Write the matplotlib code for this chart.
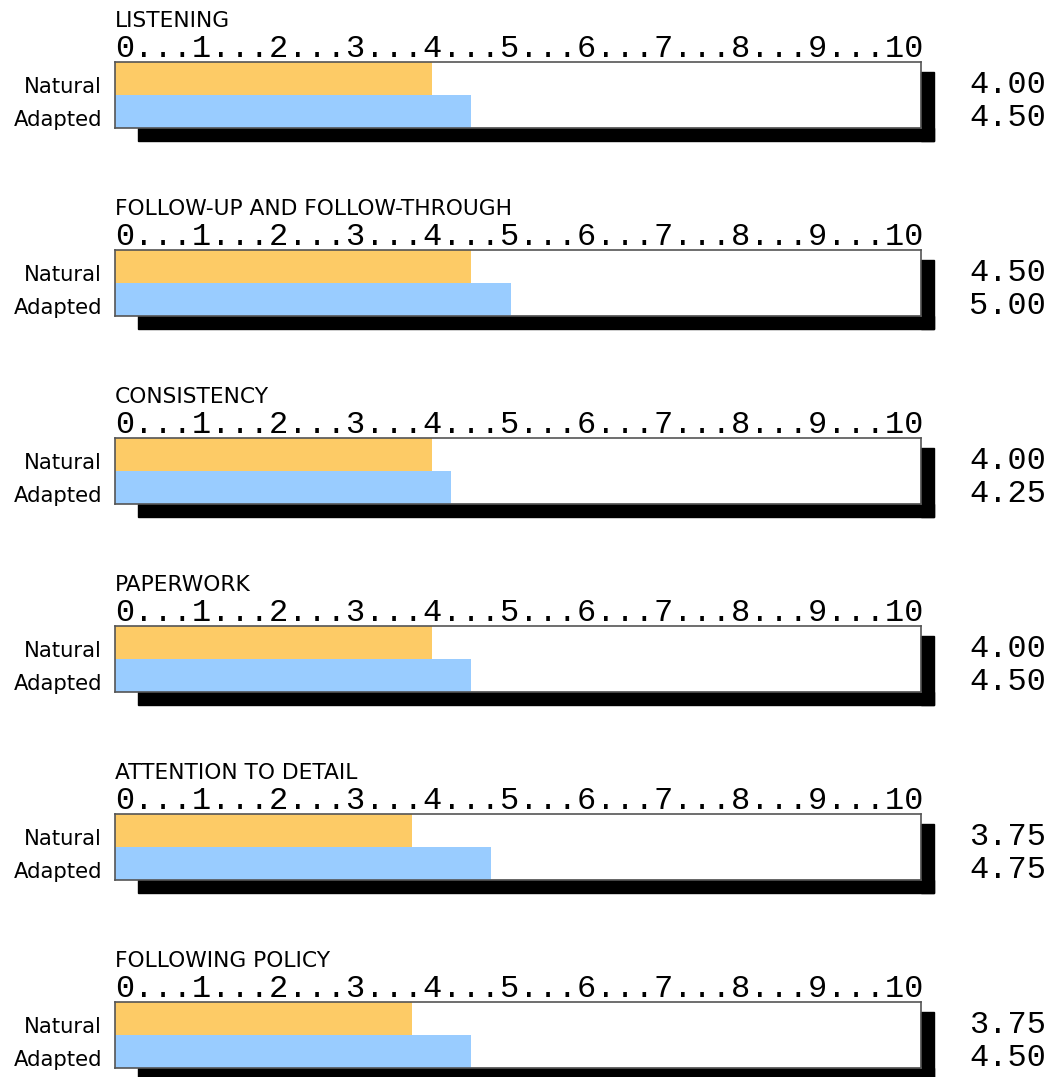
import numpy as np
import matplotlib.pyplot as plt
from matplotlib.patches import Rectangle

# scores per behaviour, 0-10 scale
categories = ['LISTENING', 'FOLLOW-UP AND FOLLOW-THROUGH', 'CONSISTENCY',
              'PAPERWORK', 'ATTENTION TO DETAIL', 'FOLLOWING POLICY']
natural = [4.00, 4.50, 4.00, 4.00, 3.75, 3.75]
adapted = [4.50, 5.00, 4.25, 4.50, 4.75, 4.50]
row_labels = ['Natural', 'Adapted']
scale_marks = [str(i) for i in range(11)]

W, H = 1048, 1077
fig = plt.figure(figsize=(W / 100, H / 100), dpi=100)

box_left, box_right = 115, 921
box_w = box_right - box_left
box_h = 66
first_top, step = 62, 188
xmax = 10.18

scale_text = '...'.join(scale_marks)
sx = 13 / box_w   # shadow offset in axes units
sy = 13 / box_h

for i, cat in enumerate(categories):
    top = first_top + i * step
    ax = fig.add_axes([box_left / W, 1 - (top + box_h) / H,
                       box_w / W, box_h / H])
    ax.barh([1.5], [natural[i]], height=1.0, color='#FDCB66', zorder=2)
    ax.barh([0.5], [adapted[i]], height=1.0, color='#99CCFF', zorder=2)
    ax.set_xlim(0, xmax)
    ax.set_ylim(0, 2)
    ax.set_xticks([])
    ax.set_yticks([])
    for sp in ax.spines.values():
        sp.set_color('#555555')
        sp.set_linewidth(1.2)

    # drop shadow along the right and bottom edges
    ax.add_patch(Rectangle((1.0, -sy), sx, 1 + sy - 10 / box_h,
                           transform=ax.transAxes, color='black',
                           clip_on=False, zorder=0))
    ax.add_patch(Rectangle((23 / box_w, -sy), 1 + sx - 23 / box_w, sy,
                           transform=ax.transAxes, color='black',
                           clip_on=False, zorder=0))

    ax.text(0, 1 + 35 / box_h, cat, transform=ax.transAxes,
            fontsize=15.7, family='DejaVu Sans', va='baseline', ha='left')
    ax.text(0.0, 1 + 5 / box_h, scale_text, transform=ax.transAxes,
            fontsize=23, family='Liberation Mono', va='baseline', ha='left')

    for val, lab, base in [(natural[i], row_labels[0], 93),
                           (adapted[i], row_labels[1], 126)]:
        yb = (box_h - (base - first_top)) / box_h
        ax.text(-13 / box_w, yb, lab, transform=ax.transAxes,
                fontsize=15.2, family='DejaVu Sans', va='baseline', ha='right')
        ax.text((1046 - box_left) / box_w, yb, f'{val:.2f}',
                transform=ax.transAxes, fontsize=23,
                family='Liberation Mono', va='baseline', ha='right')

fig.savefig('out.png', dpi=100)
